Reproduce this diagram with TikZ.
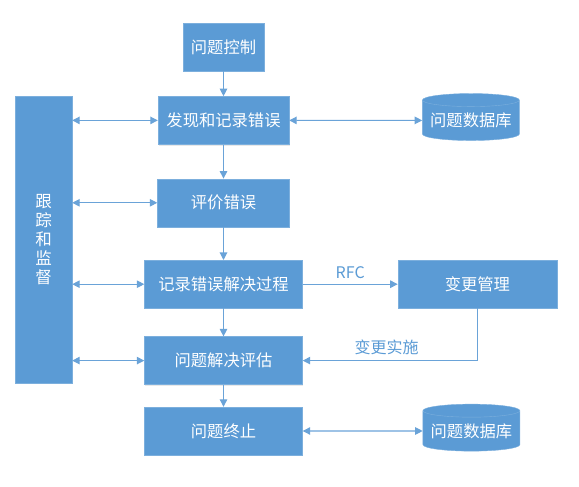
\documentclass[tikz,border=0pt]{standalone}
\usepackage{fontspec}
\newfontfamily\cjk{Noto Sans CJK SC}
\usepackage{tikz}
\usetikzlibrary{arrows.meta,positioning,shapes.geometric,shadows}
\definecolor{accent}{HTML}{5B9BD5}
\definecolor{linecol}{HTML}{6AA3D8}

\begin{document}
\begin{tikzpicture}[
  x=1pt,y=1pt,
  box/.style={rectangle,fill=accent,draw=accent!80!white,line width=0.4pt,text=white,inner sep=0pt,
    minimum height=48pt,font=\cjk\fontsize{16.3}{18}\selectfont,
    drop shadow={opacity=0.18,shadow xshift=0.8pt,shadow yshift=-1.2pt}},
  dbase/.style={cylinder,shape border rotate=90,aspect=0.16,fill=accent,draw=accent!80!white,line width=0.4pt,
    text=white,inner sep=0pt,minimum width=97pt,minimum height=47pt,font=\cjk\fontsize{16.3}{18}\selectfont},
  arr/.style={-{Triangle[length=7.5pt,width=7.5pt]},line width=1.1pt,draw=linecol},
  arr2/.style={{Triangle[length=7.5pt,width=7.5pt]}-{Triangle[length=7.5pt,width=7.5pt]},line width=1.1pt,draw=linecol},
  lbl/.style={text=accent,font=\cjk\fontsize{16}{18}\selectfont},
]
\useasboundingbox (0,0) rectangle (579,487);
\node[box,minimum width=81pt] (ctrl) at (223.5,440) {问题控制};
\node[box,minimum width=131pt,below=25pt of ctrl] (find) {发现和记录错误};
\node[box,minimum width=132pt,below=34pt of find] (eval) {评价错误};
\node[box,minimum width=158pt,below=33pt of eval] (record) {记录错误解决过程};
\node[box,minimum width=158pt,below=28pt of record] (assess) {问题解决评估};
\node[box,minimum width=158pt,below=22pt of assess] (term) {问题终止};
\node[box,minimum width=159pt,right=95pt of record] (change) {变更管理};
\node[dbase,right=133pt of find] (db1) {问题数据库};
\node[dbase,right=120pt of term] (db2) {问题数据库};
\node[box,minimum width=57pt,minimum height=287pt,align=center,
  font=\cjk\fontsize{16.5}{19}\selectfont] (track) at (43.5,247.5) {跟\\踪\\和\\监\\督};

\draw[arr] (ctrl) -- (find);
\draw[arr] (find) -- (eval);
\draw[arr] (eval) -- (record);
\draw[arr] (record) -- (assess);
\draw[arr] (assess) -- (term);
\draw[arr] (record) -- node[lbl,above=2pt]{RFC} (change);
\draw[arr] (change.south) |- node[lbl,pos=0.76,above=2pt]{变更实施} (assess.east);
\draw[arr2] (find) -- (db1);
\draw[arr2] (term) -- (db2);
% links to the tracking column
\foreach \n in {find,eval,record,assess}
  \draw[arr2] (\n.west -| track.east) -- (\n.west);
\end{tikzpicture}
\end{document}
